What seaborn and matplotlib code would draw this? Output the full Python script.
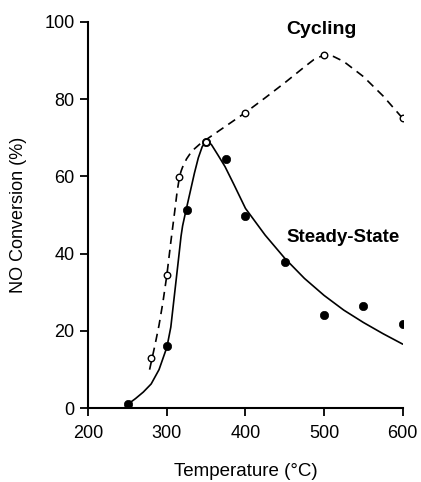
import matplotlib
matplotlib.use('Agg')
import matplotlib.pyplot as plt
import seaborn as sns

steady_T = [250, 300, 325, 350, 375, 400, 450, 500, 550, 600]
steady_conv = [1, 16, 51.3, 68.8, 64.5, 49.8, 37.8, 24.1, 26.5, 21.7]

cycling_T = [280, 300, 315, 350, 400, 500, 600]
cycling_conv = [13, 34.6, 59.8, 68.8, 76.3, 91.4, 75]

# fitted curves
steady_fit_T = [250, 260, 270, 280, 290, 300, 305, 310, 315, 318, 320, 323, 325, 330,
                335, 340, 345, 350, 353, 357, 365, 374, 385, 400, 425, 450, 475,
                500, 525, 550, 575, 600]
steady_fit_conv = [1, 2.5, 4.2, 6.3, 10, 15.8, 21, 30, 39, 44.5, 47.2, 50, 51.8, 56.3,
                   60.8, 64.8, 67.7, 69, 69, 68.1, 65.5, 62.5, 58, 51.7, 44.8, 38.8, 33.6,
                   29.2, 25.4, 22.2, 19.3, 16.6]

cycling_fit_T = [278, 285, 290, 295, 300, 305, 310, 313, 316, 318, 320, 325, 330, 335,
                 340, 345, 350, 375, 400, 425, 450, 475, 487, 500, 512, 525, 550, 575, 600]
cycling_fit_conv = [10, 16.5, 21.5, 27.5, 34.5, 43, 51, 56, 59.8, 61.3, 62.4, 64.5, 66,
                    67.1, 68, 68.9, 69.5, 73, 76.5, 80.3, 84.2, 88.3, 90.2, 91.4, 91,
                    89.7, 85.8, 80.8, 75]

sns.set_style('ticks')
plt.rcParams['font.family'] = ['Liberation Sans', 'DejaVu Sans']
plt.rcParams['text.color'] = 'black'
plt.rcParams['axes.labelcolor'] = 'black'
plt.rcParams['xtick.color'] = 'black'
plt.rcParams['ytick.color'] = 'black'

fig = plt.figure(figsize=(4.21, 4.82), dpi=100)
ax = fig.add_axes([0.2097, 0.1529, 0.7468, 0.8021])

sns.lineplot(x=cycling_fit_T, y=cycling_fit_conv, ax=ax, color='black',
             linewidth=1.2, linestyle=(0, (5, 3.5)))
sns.lineplot(x=steady_fit_T, y=steady_fit_conv, ax=ax, color='black', linewidth=1.2)

sns.scatterplot(x=steady_T, y=steady_conv, ax=ax, color='black', s=36,
                edgecolor='black', linewidth=0.5, zorder=5)
sns.scatterplot(x=cycling_T, y=cycling_conv, ax=ax, color='white', s=22,
                edgecolor='black', linewidth=1.0, zorder=6)

ax.text(497, 97.9, 'Cycling', fontsize=14, fontweight='bold', ha='center', va='center')
ax.text(524, 44.3, 'Steady-State', fontsize=13.5, fontweight='bold', ha='center', va='center')

ax.set_xlim(200, 600)
ax.set_ylim(0, 100)
ax.set_xticks([200, 300, 400, 500, 600])
ax.set_yticks([0, 20, 40, 60, 80, 100])
ax.tick_params(axis='both', labelsize=13, width=1.3, length=6)
ax.tick_params(axis='x', pad=6)
ax.tick_params(axis='y', pad=4)
ax.set_xlabel('Temperature (°C)', fontsize=13.5, labelpad=15)
ax.set_ylabel('NO Conversion (%)', fontsize=13, labelpad=12)

for side in ['top', 'right']:
    ax.spines[side].set_visible(False)
for side in ['left', 'bottom']:
    ax.spines[side].set_linewidth(1.5)
    ax.spines[side].set_color('black')

plt.savefig('out.png', dpi=100)
